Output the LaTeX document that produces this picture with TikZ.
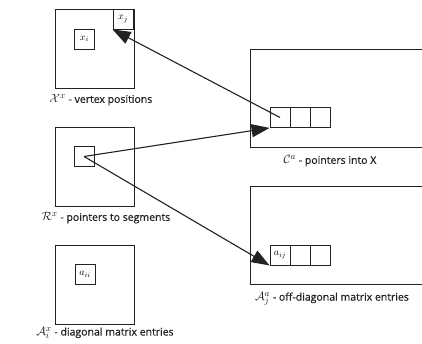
\documentclass[tikz,border=0pt]{standalone}
\usepackage{fontspec}
\setmainfont{Open Sans}
\newfontfamily\labelfont{Open Sans}[FakeBold=0.6]
\usetikzlibrary{arrows.meta}
\definecolor{ink}{HTML}{222222}
\newcommand{\bigmath}[1]{{\fontsize{13}{13}\selectfont$#1$}}
\tikzset{
  bigbox/.style={draw=ink, line width=0.9pt, minimum width=79pt, minimum height=79pt, inner sep=0pt},
  widebox/.style={draw=ink, line width=0.9pt, minimum width=200pt, minimum height=98pt, inner sep=0pt},
  cell/.style={draw=ink, line width=0.9pt, minimum width=20pt, minimum height=20pt, inner sep=0pt, font=\fontsize{10}{11}\selectfont},
  lbl/.style={font=\labelfont\fontsize{10.5}{11}\selectfont, text=ink, inner sep=0pt},
  ptr/.style={draw=ink, line width=1.1pt, -{Triangle[length=18pt,width=13pt]}}
}
\begin{document}
\begin{tikzpicture}[x=1pt,y=-1pt]
\useasboundingbox (0,0) rectangle (422,344);
\clip (0,0) rectangle (422,344);
% left column
\node[bigbox] (X) at (94.5,48.5) {};
\node[cell] (xi) at (84.5,39) {$x_i$};
\node[cell] (xj) at (123,19) {$x_j$};
\node[lbl] (Xl) at (101,100) {\bigmath{\mathcal{X}^x} - vertex positions};
\node[bigbox] (R) at (94.5,166.5) {};
\node[cell] (ri) at (84,156.5) {};
\node[lbl] (Rl) at (106,218) {\bigmath{\mathcal{R}^x} - pointers to segments};
\node[lbl] (Ail) at (105,333) {\bigmath{\mathcal{A}^x_i} - diagonal matrix entries};
\node[bigbox] (Ai) at (94.5,284.5) {};
\node[cell] (aii) at (85,274.5) {$a_{ii}$};
% right column
\node[widebox] (C) at (350,98) {};
\node[cell] (c1) at (280,117.5) {};
\node[cell] (c2) at (300,117.5) {};
\node[cell] (c3) at (320,117.5) {};
\node[lbl] (Cl) at (330,161) {\bigmath{\mathcal{C}^a} - pointers into X};
\node[widebox] (Aj) at (350,235) {};
\node[cell] (a1) at (280,255) {$a_{ij}$};
\node[cell] (a2) at (300,255) {};
\node[cell] (a3) at (320,255) {};
\node[lbl] (Ajl) at (332,299) {\bigmath{\mathcal{A}^a_j} - off-diagonal matrix entries};
% pointers
\draw[ptr] (c1.center) -- (xj.south west);
\draw[ptr] (ri.center) -- (c1.south west);
\draw[ptr] (ri.center) -- (a1.south west);
\end{tikzpicture}
\end{document}
